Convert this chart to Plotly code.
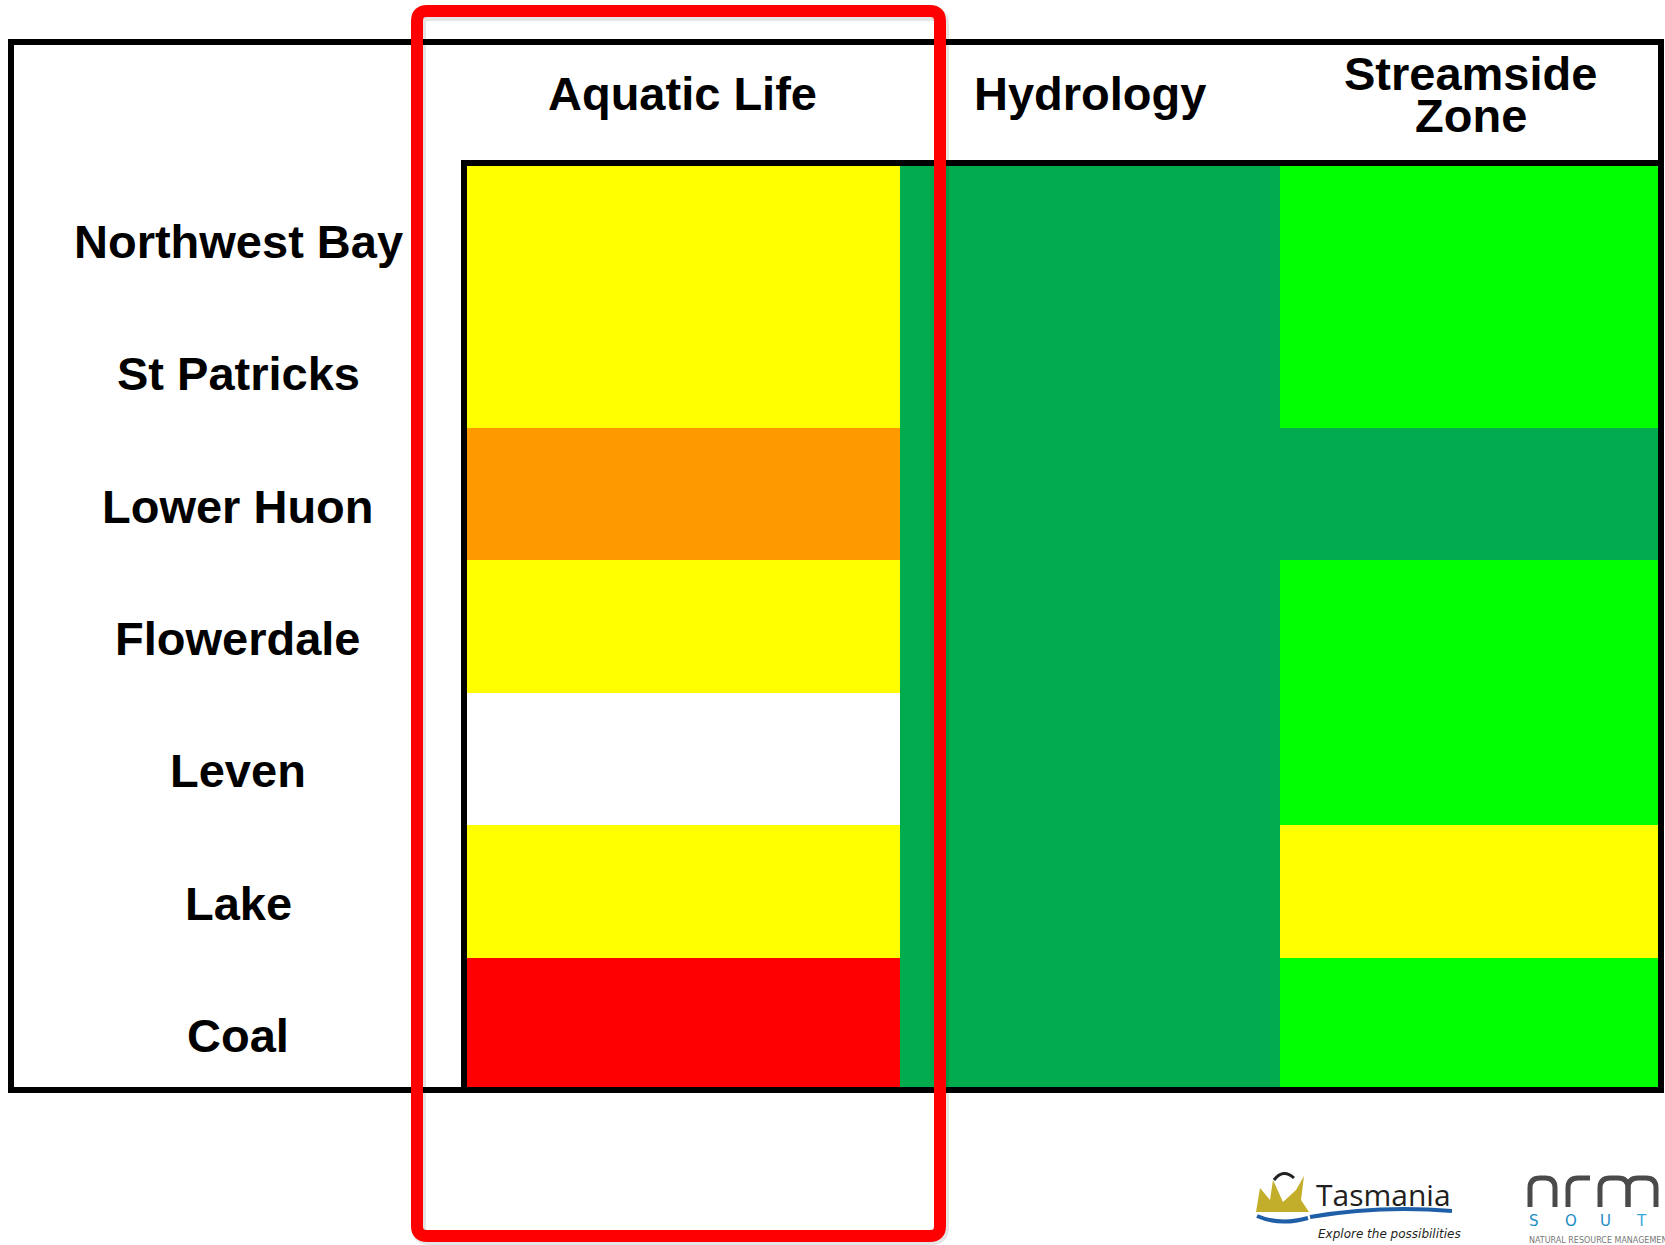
import plotly.graph_objects as go

# ---------------- data ----------------
sites = ["Northwest Bay", "St Patricks", "Lower Huon", "Flowerdale", "Leven", "Lake", "Coal"]
indicators = ["Aquatic Life", "Hydrology", "Streamside Zone"]
# condition rating: 0 = no data, 1 = poor, 2 = fair, 3 = moderate, 4 = good, 5 = very good
aquatic_life = [3, 3, 2, 3, 0, 3, 1]
hydrology = [5, 5, 5, 5, 5, 5, 5]
streamside_zone = [4, 4, 5, 4, 4, 3, 4]
rating_colors = ["#FFFFFF", "#FF0000", "#FF9900", "#FFFF00", "#00FF00", "#00AC4E"]

# ---------------- layout constants (pixels) ----------------
W, H = 1665, 1245
PLOT_L, PLOT_R, PLOT_T, PLOT_B = 464, 1661, 163, 1090
COL_EDGES_PX = [464, 900, 1280, 1661]   # column boundaries (Aquatic Life is wider)
FONT = "Liberation Sans, Arial, sans-serif"


def px(x):
    return x / W


def py(y):
    return 1 - y / H


z = [[a, h, s] for a, h, s in zip(aquatic_life, hydrology, streamside_zone)]
n = len(rating_colors) - 1
colorscale = []
for i, c in enumerate(rating_colors):
    colorscale.append([i / (n + 1), c])
    colorscale.append([(i + 1) / (n + 1), c])

fig = go.Figure(go.Heatmap(
    z=z,
    x=COL_EDGES_PX,
    y=sites,
    colorscale=colorscale,
    zmin=-0.5, zmax=n + 0.5,
    showscale=False,
    hoverinfo="skip",
))

fig.update_layout(
    width=W, height=H,
    margin=dict(l=0, r=0, t=0, b=0),
    paper_bgcolor="white", plot_bgcolor="white",
    xaxis=dict(domain=[px(PLOT_L), px(PLOT_R)], range=[COL_EDGES_PX[0], COL_EDGES_PX[-1]],
               showticklabels=False, showgrid=False, zeroline=False, fixedrange=True),
    yaxis=dict(domain=[py(PLOT_B), py(PLOT_T)], autorange="reversed",
               showticklabels=False, showgrid=False, zeroline=False, fixedrange=True),
    showlegend=False,
)

shapes = []
# outer frame
shapes.append(dict(type="rect", xref="paper", yref="paper",
                   x0=px(11), x1=px(1661), y0=py(1090), y1=py(42),
                   line=dict(color="black", width=6), fillcolor="rgba(0,0,0,0)"))
# heatmap frame (left + top)
shapes.append(dict(type="line", xref="paper", yref="paper",
                   x0=px(464), x1=px(464), y0=py(160), y1=py(1090),
                   line=dict(color="black", width=6)))
shapes.append(dict(type="line", xref="paper", yref="paper",
                   x0=px(461), x1=px(1661), y0=py(163), y1=py(163),
                   line=dict(color="black", width=6)))


# red highlight rounded rectangle (with faint shadow)
def rounded_rect(x0, y0, x1, y1, r):
    X0, X1 = px(x0), px(x1)
    Y0, Y1 = py(y0), py(y1)
    rx, ry = r / W, r / H
    return (f"M {X0+rx},{Y0} L {X1-rx},{Y0} Q {X1},{Y0} {X1},{Y0-ry} "
            f"L {X1},{Y1+ry} Q {X1},{Y1} {X1-rx},{Y1} "
            f"L {X0+rx},{Y1} Q {X0},{Y1} {X0},{Y1+ry} "
            f"L {X0},{Y0-ry} Q {X0},{Y0} {X0+rx},{Y0} Z")


shapes.append(dict(type="path", xref="paper", yref="paper",
                   path=rounded_rect(419, 14, 942, 1238, 10),
                   line=dict(color="rgba(0,0,0,0.10)", width=14)))
shapes.append(dict(type="path", xref="paper", yref="paper",
                   path=rounded_rect(417, 11, 940, 1236, 10),
                   line=dict(color="#FF0000", width=12)))

# Tasmania logo approximations (sun rays + waves + devil ears)
shapes.append(dict(type="path", xref="paper", yref="paper",
                   path=(f"M {px(1256)},{py(1212)} L {px(1260)},{py(1188)} L {px(1270)},{py(1200)} "
                         f"L {px(1273)},{py(1180)} L {px(1283)},{py(1202)} L {px(1296)},{py(1190)} "
                         f"L {px(1304)},{py(1176)} L {px(1301)},{py(1200)} L {px(1309)},{py(1212)} Z"),
                   fillcolor="#C2AE2A", line=dict(width=0)))
shapes.append(dict(type="path", xref="paper", yref="paper",
                   path=(f"M {px(1310)},{py(1217)} Q {px(1380)},{py(1205)} {px(1452)},{py(1211)}"),
                   line=dict(color="#1F5FA8", width=4)))
shapes.append(dict(type="path", xref="paper", yref="paper",
                   path=(f"M {px(1257)},{py(1216)} Q {px(1280)},{py(1226)} {px(1308)},{py(1218)}"),
                   line=dict(color="#1F5FA8", width=4)))
shapes.append(dict(type="path", xref="paper", yref="paper",
                   path=(f"M {px(1274)},{py(1180)} Q {px(1283)},{py(1168)} {px(1294)},{py(1178)}"),
                   line=dict(color="#222222", width=3)))


# NRM South logo: "nrm" drawn as rounded arches
def arch(xl, xr, top, bottom, r, right_leg=True):
    p = (f"M {px(xl)},{py(bottom)} L {px(xl)},{py(top + r)} "
         f"Q {px(xl)},{py(top)} {px(xl + r)},{py(top)} L {px(xr - r)},{py(top)} ")
    if right_leg:
        p += f"Q {px(xr)},{py(top)} {px(xr)},{py(top + r)} L {px(xr)},{py(bottom)}"
    else:
        p += f"L {px(xr)},{py(top)}"
    return p


nrm_gray = "#4A4A4A"
for xl, xr, leg in [(1530, 1555, True), (1568, 1590, False), (1600, 1628, True), (1628, 1656, True)]:
    shapes.append(dict(type="path", xref="paper", yref="paper",
                       path=arch(xl, xr, 1178, 1207, 10, leg),
                       line=dict(color=nrm_gray, width=5)))

fig.update_layout(shapes=shapes)

annotations = []
# column headers
header_y = [94, 94, None]
col_centers = [(COL_EDGES_PX[i] + COL_EDGES_PX[i + 1]) / 2 for i in range(3)]
for i, name in enumerate(indicators):
    if name == "Streamside Zone":
        for line, yy in zip(name.split(" "), [74, 115]):
            annotations.append(dict(text=f"<b>{line}</b>", xref="paper", yref="paper",
                                    x=px(col_centers[i]), y=py(yy), showarrow=False,
                                    xanchor="center", yanchor="middle",
                                    font=dict(family=FONT, size=47, color="black")))
    else:
        annotations.append(dict(text=f"<b>{name}</b>", xref="paper", yref="paper",
                                x=px(col_centers[i]), y=py(header_y[i]), showarrow=False,
                                xanchor="center", yanchor="middle",
                                font=dict(family=FONT, size=47, color="black")))
# row labels
for s in sites:
    annotations.append(dict(text=f"<b>{s}</b>", xref="paper", yref="y",
                            x=px(238), y=s, yshift=-12, showarrow=False,
                            xanchor="center", yanchor="middle",
                            font=dict(family=FONT, size=47, color="black")))

# logos (text approximations)
annotations += [
    dict(text="Tasmania", xref="paper", yref="paper", x=px(1314), y=py(1194),
         xanchor="left", yanchor="middle", showarrow=False,
         font=dict(family="Open Sans, sans-serif", size=30, color="#231F20")),
    dict(text="<i>Explore the possibilities</i>", xref="paper", yref="paper", x=px(1316), y=py(1234),
         xanchor="left", yanchor="middle", showarrow=False,
         font=dict(family="DejaVu Sans, sans-serif", size=12, color="#231F20")),
    dict(text="NATURAL RESOURCE MANAGEMENT", xref="paper", yref="paper", x=px(1527), y=py(1240),
         xanchor="left", yanchor="middle", showarrow=False,
         font=dict(family="DejaVu Sans, sans-serif", size=8, color="#777777")),
]
south_colors = ["#1B8CC6", "#1B8CC6", "#1B8CC6", "#35A8DD", "#35A8DD"]
for k, (ch, col) in enumerate(zip("SOUTH", south_colors)):
    annotations.append(dict(text=ch, xref="paper", yref="paper", x=px(1527 + 35.5 * k), y=py(1221),
                            xanchor="left", yanchor="middle", showarrow=False,
                            font=dict(family="DejaVu Sans, sans-serif", size=15, color=col)))

fig.update_layout(annotations=annotations)

fig.write_html("out.html", config={"displayModeBar": False},
               post_script="document.body.style.margin='0px';")
